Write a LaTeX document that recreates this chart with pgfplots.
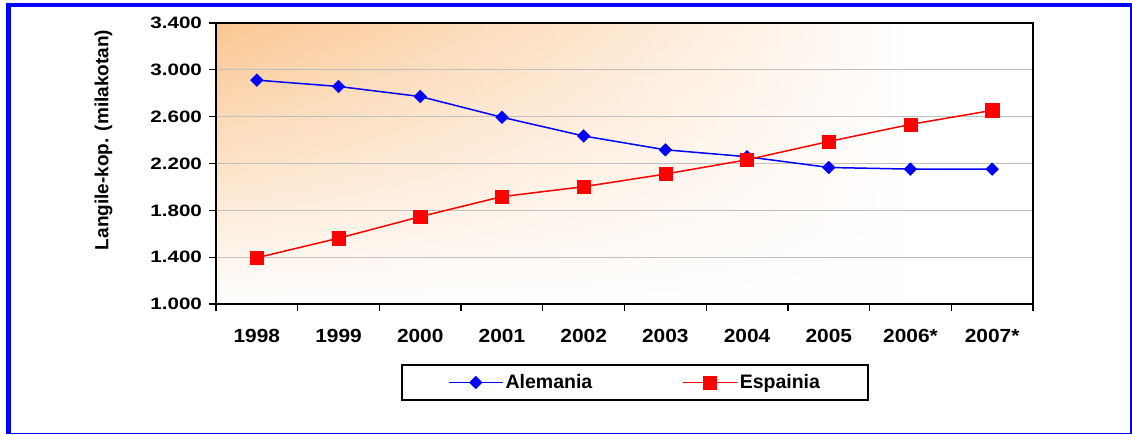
\documentclass[border=0pt]{standalone}
\usepackage{fontspec}
\setmainfont{Liberation Sans}
\newfontfamily\yfont{Liberation Sans}[FakeStretch=1.25]
\newfontfamily\xfont{Liberation Sans}[FakeStretch=1.1]
\usepackage{pgfplots}
\pgfplotsset{compat=1.18}
\usetikzlibrary{fadings}
\definecolor{bgor}{RGB}{251,199,146}
\definecolor{gridgray}{RGB}{192,192,192}
\tikzfading[name=fadebottom, top color=transparent!100, middle color=transparent!65, bottom color=transparent!0]
\begin{document}
\begin{tikzpicture}[x=1pt,y=1pt]
\useasboundingbox (0,0) rectangle (1132,434);
\fill[white] (0,0) rectangle (1132,434);
% frame
\fill[blue] (6,0) rectangle (11,431);
\fill[blue] (6,427) rectangle (1132,431);
\fill[blue] (1130,0) rectangle (1132,431);
\fill[blue] (6,0) rectangle (1132,1.5);
% plot area background
\shade[left color=bgor, right color=white] (216,130) rectangle (910,411);
\fill[white] (909.5,130) rectangle (1033,411);
\fill[white, path fading=fadebottom] (216,130) rectangle (1033,411);
\begin{axis}[
  at={(216pt,130pt)}, anchor=south west,
  scale only axis, width=817pt, height=281pt,
  xmin=-0.5, xmax=9.5, ymin=1000, ymax=3400,
  ytick={1000,1400,1800,2200,2600,3000,3400},
  yticklabels={1.000,1.400,1.800,2.200,2.600,3.000,3.400},
  xtick={-0.5,0.5,1.5,2.5,3.5,4.5,5.5,6.5,7.5,8.5,9.5},
  xticklabels={},
  extra x ticks={0,1,2,3,4,5,6,7,8,9},
  extra x tick labels={1998,1999,2000,2001,2002,2003,2004,2005,2006*,2007*},
  extra x tick style={major tick length=0pt, grid=none},
  xticklabel style={font=\xfont\bfseries\fontsize{19}{20}\selectfont, yshift=-22pt},
  yticklabel style={font=\yfont\bfseries\fontsize{16.5}{18}\selectfont, xshift=-3.5pt},
  ymajorgrids, grid style={gridgray, line width=1.3pt},
  axis line style={line width=2pt, black},
  tick align=outside, tick pos=left, major tick length=7pt,
  tick style={black, line width=1.3pt},
  every axis y label/.style={at={(rel axis cs:-0.1377,0.584)}, rotate=90, anchor=center,
    font=\bfseries\fontsize{19}{20}\selectfont},
  ylabel={Langile-kop. (milakotan)},
  legend columns=2,
  legend style={at={(rel axis cs:0.5129,-0.2794)}, anchor=center, draw=black, line width=1.8pt,
    inner xsep=46pt, inner ysep=7.5pt,
    font=\bfseries\fontsize{19.5}{20}\selectfont,
    /tikz/every even column/.append style={column sep=88pt}},
  legend image code/.code={\draw[mark repeat=2,mark phase=2,#1] plot coordinates {(0pt,0pt) (27pt,0pt) (54pt,0pt)};},
]
\addplot[blue, line width=1.5pt, mark=square*, mark size=4.45pt, mark options={rotate=45, line width=0.5pt, solid}]
  coordinates {(0,2912) (1,2858) (2,2772) (3,2595) (4,2435) (5,2317) (6,2258) (7,2166) (8,2152) (9,2152)};
\addlegendentry{Alemania}
\addplot[red, line width=1.5pt, mark=square*, mark size=6.6pt, mark options={line width=0.5pt, solid}]
  coordinates {(0,1395) (1,1562) (2,1746) (3,1917) (4,2002) (5,2110) (6,2232) (7,2388) (8,2534) (9,2654)};
\addlegendentry{Espainia}
\end{axis}
\end{tikzpicture}
\end{document}
